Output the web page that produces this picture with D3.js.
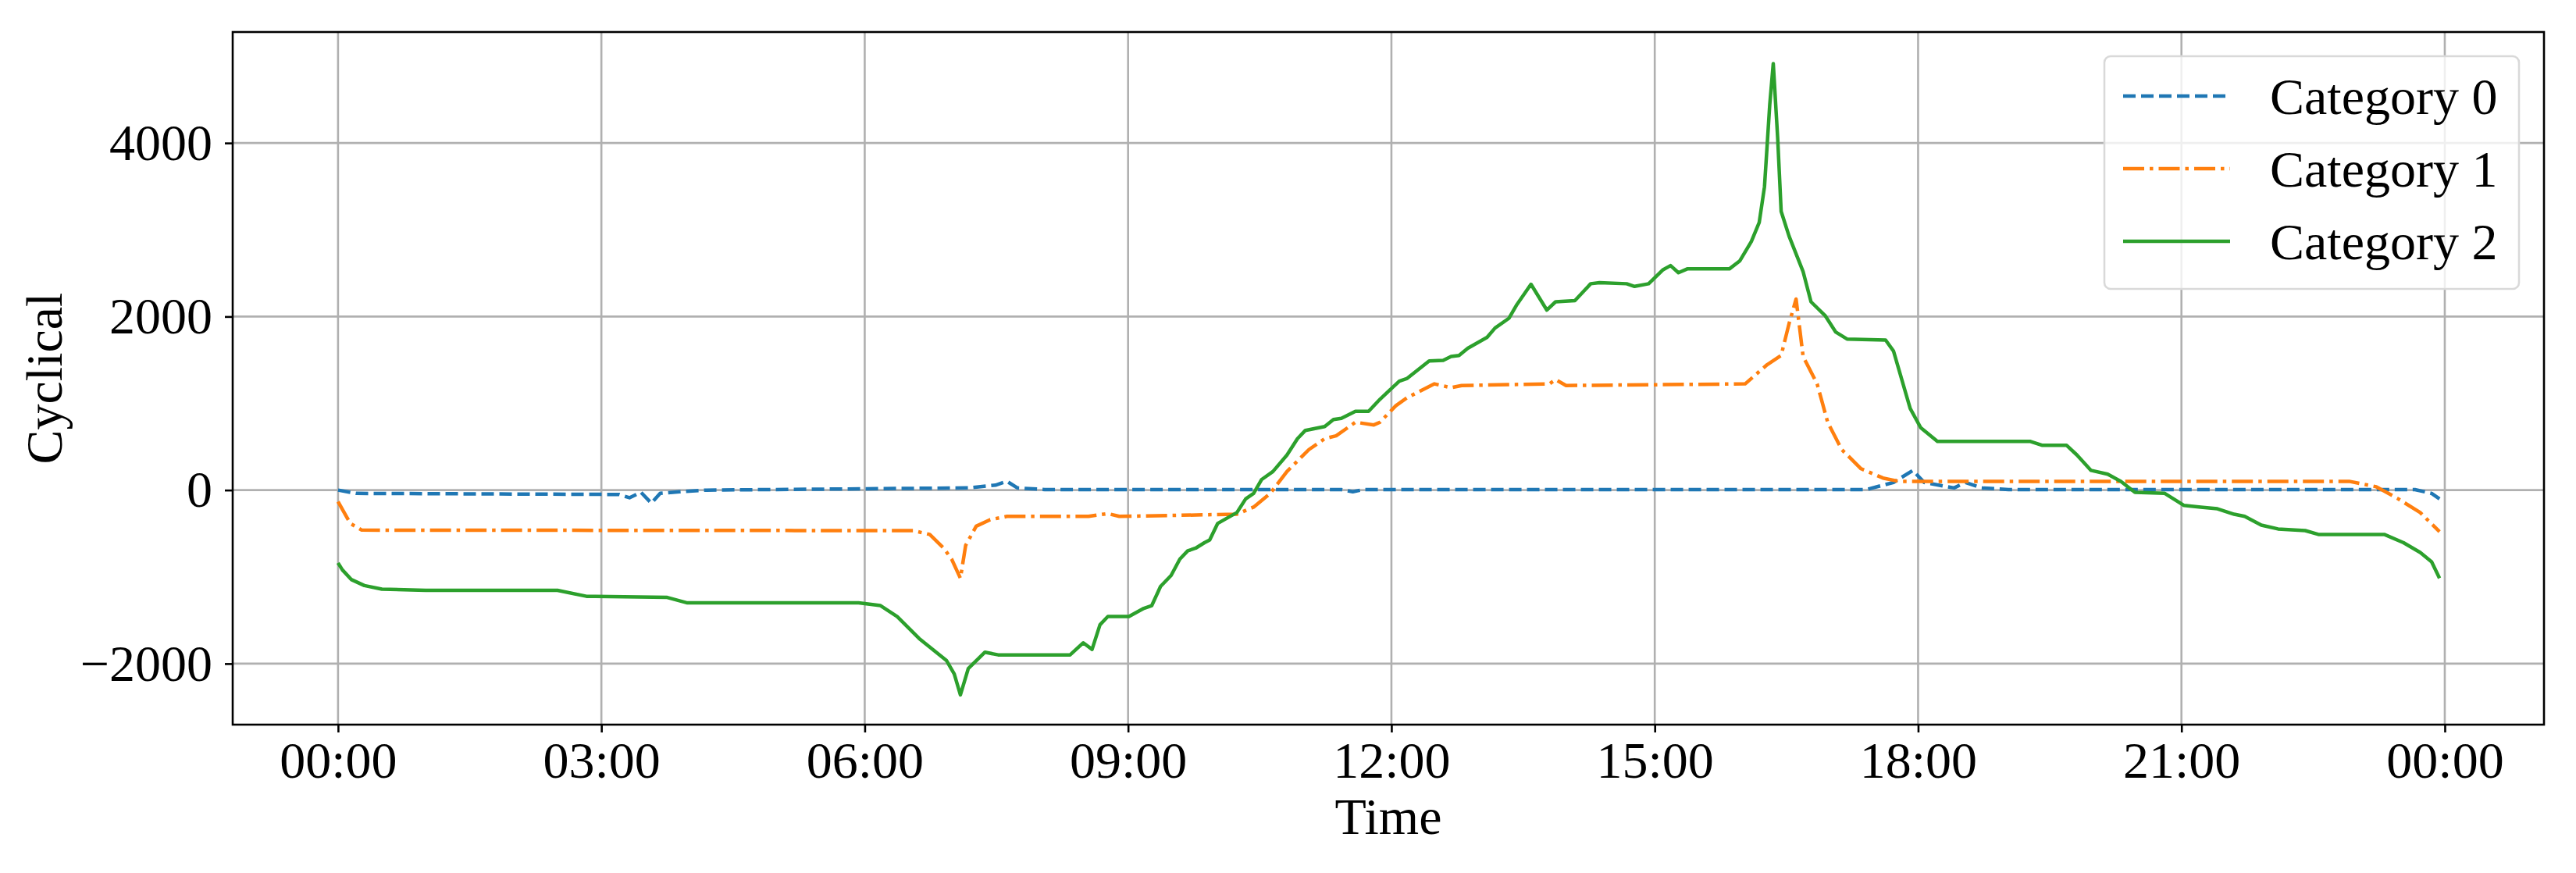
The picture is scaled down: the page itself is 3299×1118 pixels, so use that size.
<!DOCTYPE html>
<html><head><meta charset="utf-8">
<script src="https://cdn.jsdelivr.net/npm/d3@7"></script>
<style>body{margin:0;background:#fff}text{font-family:"Liberation Serif","Times New Roman",serif}</style>
</head><body><svg id="c" width="3299" height="1118"></svg>
<script>
const seriesNames = ["Category 0","Category 1","Category 2"];
const cat0Hours = [0,0.21,3.2,3.32,3.45,3.57,3.67,3.89,4.2,7.18,7.49,7.62,7.74,8.05,11.43,11.56,11.68,17.41,17.72,17.94,18.07,18.41,18.54,18.72,19.03,23.66,23.85,23.94];
const cat0Values = [0,-38,-50,-88,-25,-151,-38,-19,0,25,57,101,25,6,6,-19,6,6,88,227,88,25,88,25,6,6,-38,-101];
const cat1Hours = [0,0.14,0.27,6.55,6.74,6.9,6.99,7.09,7.15,7.27,7.43,7.62,8.55,8.77,8.9,10.24,10.43,10.62,10.81,11.06,11.24,11.37,11.59,11.8,11.87,12.05,12.18,12.49,12.68,12.8,13.8,13.87,13.99,16.03,16.28,16.44,16.53,16.61,16.69,16.85,16.97,17.13,17.35,17.6,17.78,22.91,23.22,23.47,23.72,23.94];
const cat1Values = [-132,-385,-461,-467,-511,-669,-795,-1016,-637,-416,-341,-303,-303,-271,-303,-278,-196,-38,214,467,593,625,782,751,782,972,1066,1224,1180,1205,1224,1274,1205,1224,1445,1552,1918,2202,1540,1224,782,467,246,139,101,101,38,-101,-259,-480];
const cat2Hours = [0,0.05,0.15,0.3,0.5,1,2.5,2.83,3.75,3.98,5.93,6.18,6.37,6.62,6.93,7.02,7.09,7.18,7.37,7.52,8.34,8.49,8.59,8.68,8.77,9.01,9.18,9.27,9.37,9.49,9.59,9.68,9.77,9.87,9.93,10.02,10.24,10.34,10.43,10.52,10.65,10.81,10.93,11.02,11.24,11.34,11.43,11.59,11.74,11.87,12.09,12.18,12.43,12.59,12.68,12.77,12.87,13.09,13.18,13.34,13.43,13.59,13.77,13.87,14.09,14.27,14.37,14.68,14.77,14.93,15.09,15.18,15.27,15.37,15.85,15.97,16.1,16.19,16.25,16.31,16.35,16.4,16.44,16.53,16.69,16.78,16.94,17.06,17.19,17.63,17.72,17.91,18.03,18.22,19.28,19.41,19.69,19.81,19.97,20.16,20.31,20.47,20.81,21.03,21.22,21.41,21.6,21.72,21.91,22.1,22.41,22.56,23.31,23.53,23.72,23.85,23.94];
const cat2Values = [-839,-920,-1030,-1100,-1142,-1155,-1155,-1224,-1237,-1300,-1300,-1331,-1457,-1710,-1962,-2120,-2360,-2057,-1868,-1899,-1899,-1760,-1836,-1552,-1457,-1457,-1363,-1331,-1110,-984,-795,-700,-669,-606,-574,-385,-259,-101,-38,120,214,404,593,688,732,814,827,908,908,1047,1256,1287,1489,1495,1540,1552,1634,1760,1867,1981,2139,2372,2075,2170,2183,2378,2391,2378,2347,2378,2536,2587,2505,2549,2549,2643,2864,3085,3495,4442,4915,4063,3211,2927,2517,2170,2012,1823,1741,1729,1602,940,719,561,561,517,517,404,227,183,101,-25,-38,-177,-196,-215,-278,-303,-404,-448,-467,-511,-511,-606,-719,-826,-1016];
const yTicks = [-2000,0,2000,4000];
const xTickHours = [0,3,6,9,12,15,18,21,24];
const xTickLabels = ["00:00","03:00","06:00","09:00","12:00","15:00","18:00","21:00","00:00"];

const FS = 66;
const svg = d3.select("#c");
const L=298,R=3258,T=41,B=928;
const x = d3.scaleLinear().domain([-1.2,25.13]).range([L,R]);
const y = d3.scaleLinear().domain([-2703,5279]).range([B,T]);
const g = svg.append("g");
g.selectAll(".gx").data(xTickHours).join("line").attr("x1",d=>x(d)).attr("x2",d=>x(d)).attr("y1",T).attr("y2",B).attr("stroke","#b0b0b0").attr("stroke-width",2.6);
g.selectAll(".gy").data(yTicks).join("line").attr("x1",L).attr("x2",R).attr("y1",d=>y(d)).attr("y2",d=>y(d)).attr("stroke","#b0b0b0").attr("stroke-width",2.6);
const xa = svg.append("g").attr("transform",`translate(0,${B})`).call(d3.axisBottom(x).tickValues(xTickHours).tickFormat((d,i)=>xTickLabels[i]).tickSize(10));
const ya = svg.append("g").attr("transform",`translate(${L},0)`).call(d3.axisLeft(y).tickValues(yTicks).tickFormat(d=>d<0?"\u2212"+Math.abs(d):String(d)).tickSize(10).tickPadding(16));
[xa,ya].forEach(a=>{a.select(".domain").remove();a.selectAll("line").attr("stroke","#000").attr("stroke-width",2.6);a.selectAll("text").attr("font-size",FS).attr("fill","#000").attr("font-family","Liberation Serif");});
xa.selectAll("text").attr("y",68).attr("dy",0);
const series = [
 {h:cat0Hours,v:cat0Values,c:"#1f77b4",dash:"16,7"},
 {h:cat1Hours,v:cat1Values,c:"#ff7f0e",dash:"27,7,4.5,7"},
 {h:cat2Hours,v:cat2Values,c:"#2ca02c",dash:null}];
const line = d3.line().x(d=>x(d[0])).y(d=>y(d[1]));
series.forEach(s=>{
  svg.append("path").datum(s.h.map((h,i)=>[h,s.v[i]])).attr("d",line).attr("fill","none").attr("stroke",s.c).attr("stroke-width",4.5).attr("stroke-linejoin","round").attr("stroke-dasharray",s.dash);
});
svg.append("rect").attr("x",L).attr("y",T).attr("width",R-L).attr("height",B-T).attr("fill","none").attr("stroke","#000").attr("stroke-width",2.6);
const lg = svg.append("g");
lg.append("rect").attr("x",2695).attr("y",72).attr("width",531).attr("height",298).attr("rx",8).attr("fill","#fff").attr("fill-opacity",0.8).attr("stroke","#d9d9d9").attr("stroke-width",2.6);
series.forEach((s,i)=>{
  const yy=123+i*93;
  lg.append("line").attr("x1",2719).attr("x2",2856).attr("y1",yy).attr("y2",yy).attr("stroke",s.c).attr("stroke-width",4.5).attr("stroke-dasharray",s.dash);
  lg.append("text").attr("x",2907).attr("y",yy).attr("dy","0.35em").attr("font-size",FS).text(seriesNames[i]);
});
svg.append("text").attr("x",(L+R)/2).attr("y",1068).attr("text-anchor","middle").attr("font-size",FS).text("Time");
svg.append("text").attr("transform",`translate(79,${(T+B)/2}) rotate(-90)`).attr("text-anchor","middle").attr("font-size",FS).text("Cyclical");
</script></body></html>
